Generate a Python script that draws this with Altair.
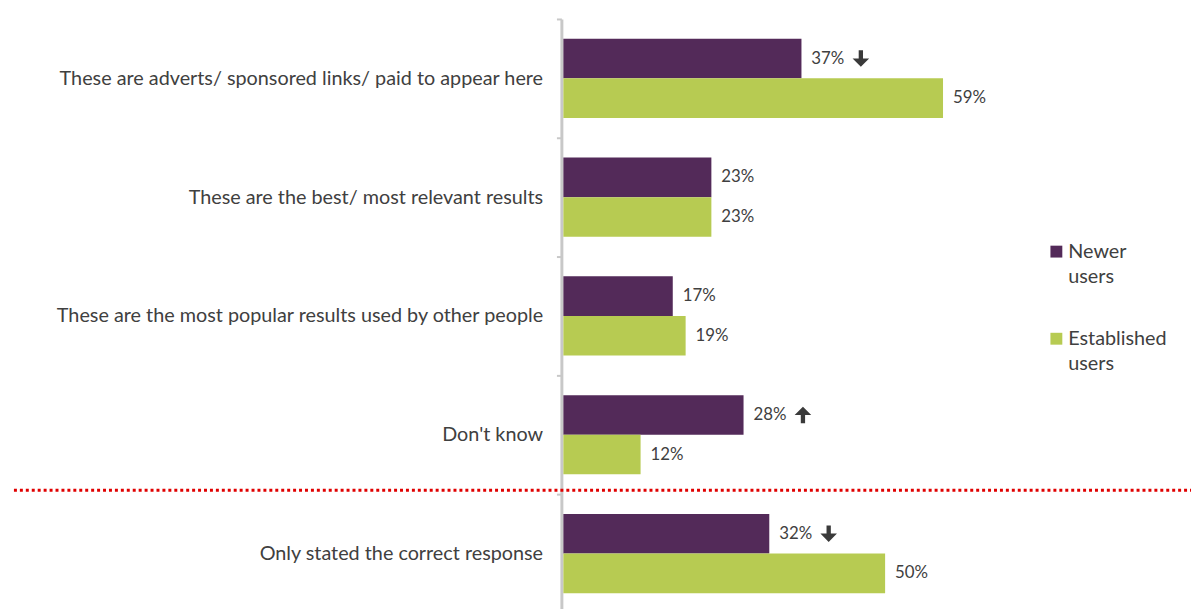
import altair as alt
import pandas as pd

categories = [
    "These are adverts/ sponsored links/ paid to appear here",
    "These are the best/ most relevant results",
    "These are the most popular results used by other people",
    "Don't know",
    "Only stated the correct response",
]
groups = ["Newer users", "Established users"]
newer = [37, 23, 17, 28, 32]
established = [59, 23, 19, 12, 50]
arrows = ["down", "", "", "up", "down"]

rows = []
for c, n, e, a in zip(categories, newer, established, arrows):
    rows.append({"cat": c, "grp": groups[0], "val": n, "label": f"{n}%", "arrow": a})
    rows.append({"cat": c, "grp": groups[1], "val": e, "label": f"{e}%", "arrow": ""})
df = pd.DataFrame(rows)

FONT = "Lato"
TXT = "#404040"

DOWN = "M-0.26,-1L0.26,-1L0.26,-0.02L1,-0.02L0,1L-1,-0.02L-0.26,-0.02Z"
UP = "M-0.26,1L0.26,1L0.26,0.02L1,0.02L0,-1L-1,0.02L-0.26,0.02Z"

y_enc = alt.Y(
    "cat:N",
    sort=categories,
    scale=alt.Scale(paddingInner=0, paddingOuter=0),
    axis=alt.Axis(
        title=None,
        tickBand="extent",
        tickSize=5,
        tickColor="#c8c8c8",
        tickWidth=2,
        domainColor="#c8c8c8",
        domainWidth=3,
        offset=2,
        labelPadding=14,
        labelFont=FONT,
        labelFontSize=20,
        labelColor=TXT,
        labelLimit=700,
    ),
)
yoff = alt.YOffset("grp:N", sort=groups, scale=alt.Scale(domain=groups, paddingInner=0, paddingOuter=0.5))
x_enc = alt.X("val:Q", scale=alt.Scale(domain=[0, 70]), axis=None)

base = alt.Chart(df)

bars = base.mark_bar().encode(
    y=y_enc,
    yOffset=yoff,
    x=x_enc,
    color=alt.Color(
        "grp:N",
        sort=groups,
        scale=alt.Scale(domain=groups, range=["#532a59", "#b7cb52"]),
        legend=alt.Legend(
            title=None,
            orient="none",
            legendX=488,
            legendY=225,
            symbolType="square",
            symbolSize=144,
            symbolStrokeWidth=0,
            labelExpr="split(datum.label, ' ')",
            labelFont=FONT,
            labelFontSize=20,
            labelColor=TXT,
            labelOffset=2,
            rowPadding=42,
            padding=0,
        ),
    ),
)

labels = base.mark_text(align="left", baseline="middle", dx=10, font=FONT, fontSize=17, color=TXT).encode(
    y=alt.Y("cat:N", sort=categories),
    yOffset=alt.YOffset("grp:N", sort=groups),
    x="val:Q",
    text="label:N",
)

arrow_marks = base.transform_filter("datum.arrow != ''").mark_point(
    filled=True, opacity=1, size=280, color="#3a3a3a"
).encode(
    y=alt.Y("cat:N", sort=categories),
    yOffset=alt.YOffset("grp:N", sort=groups),
    x="val:Q",
    xOffset=alt.XOffset(value=60),
    shape=alt.Shape("arrow:N", scale=alt.Scale(domain=["down", "up"], range=[DOWN, UP]), legend=None),
)

sep = alt.Chart(pd.DataFrame({"k": [0]})).mark_rule(
    color="#e00000", strokeWidth=3, strokeDash=[3, 3]
).encode(x=alt.value(-555), x2=alt.value(634), y=alt.value(476))

chart = (
    alt.layer(bars, labels, arrow_marks, sep)
    .properties(
        width=455,
        height=600,
        autosize=alt.AutoSizeParams(type="none"),
        padding={"left": 561, "top": 8, "right": 180, "bottom": 0},
    )
    .configure(style={"guide-label": {"lineHeight": 26}})
    .configure_view(stroke=None)
)

chart.save("out.html", embed_options={"renderer": "svg", "actions": False})
